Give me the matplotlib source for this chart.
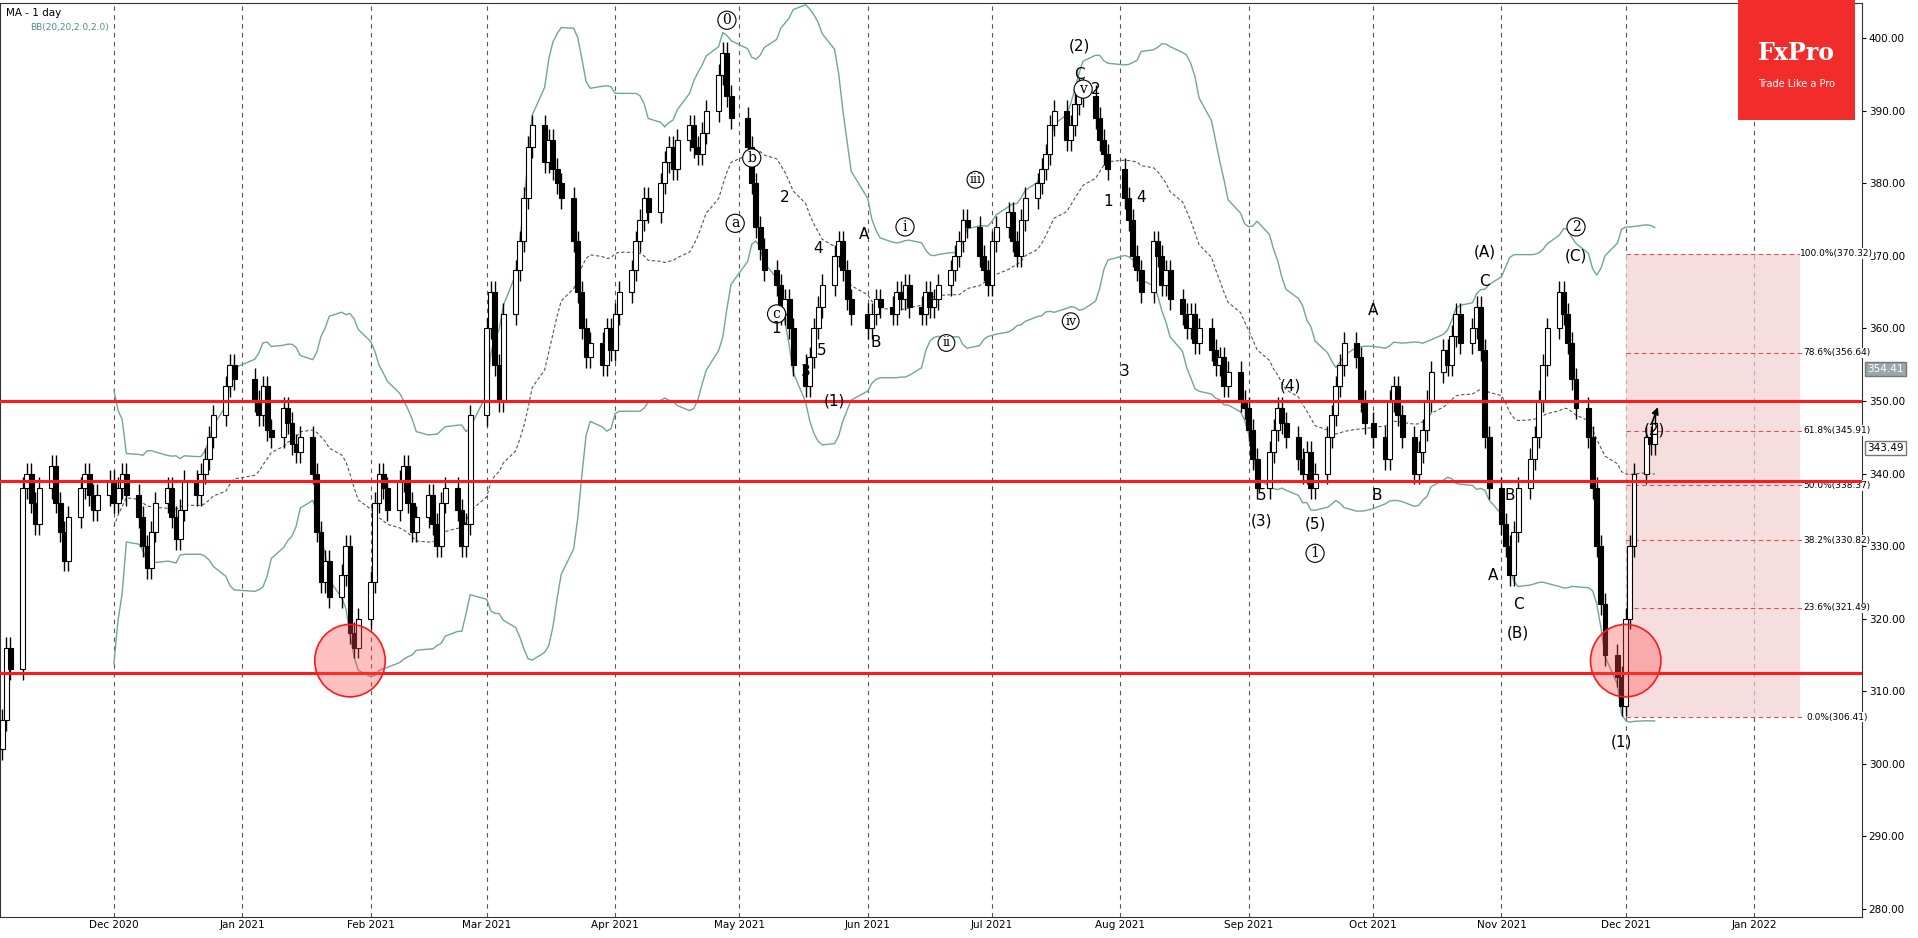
import matplotlib
matplotlib.use("Agg")
import matplotlib.pyplot as plt
import matplotlib.dates as mdates
from matplotlib.patches import Rectangle, Ellipse
import pandas as pd
import numpy as np

# ---- data (daily closes per month) ----
nov20 = [306,316,313,338,340,336,333,338,341,336,332,328,334,338,340,337,335,337,339]
dec20 = [336,338,340,337,334,330,327,332,336,338,334,331,335,339,337,340,342,345,348,352,355,353]
jan21 = [350,348,352,346,345,349,347,344,343,345,340,332,325,328,323,326,330,318,316,320]
feb21 = [325,336,340,338,335,339,341,336,332,334,337,333,330,336,338,335,330,333,348]
mar21 = [360,365,355,350,362,368,372,378,385,388,383,386,382,380,378,372,365,360,356,358,355,360,357]
apr21 = [362,365,368,372,375,378,376,380,383,385,382,386,388,385,384,387,390,395,398,392,389]
may21 = [385,380,374,371,368,366,362,364,360,355,352,356,360,363,366,370,372,368,364,362]
jun21 = [360,362,364,363,362,365,364,366,363,362,365,363,364,366,368,370,372,375,374,370,368,366]
jul21 = [372,374,376,372,370,375,378,380,382,384,388,390,386,388,391,393,392,389,386,384,382]
aug21 = [378,375,370,368,365,372,370,366,368,364,362,360,362,358,360,357,355,356,352,354,350,349]
sep21 = [346,342,338,343,346,349,347,345,342,340,343,338,340,345,348,352,355,358,356,350,347]
oct21 = [345,342,350,352,348,345,340,343,346,350,354,357,355,359,362,358,360,363,357,345,338]
nov21 = [333,330,326,332,338,342,345,350,355,360,365,362,358,353,349,345,338,330,322,315,312,308]
dec21 = [320,330,340,345,344,347]
month_starts = ["2020-11-04","2020-12-01","2021-01-04","2021-02-01","2021-03-01","2021-04-01",
                "2021-05-03","2021-06-01","2021-07-01","2021-08-02","2021-09-01","2021-10-01",
                "2021-11-01","2021-12-01"]
months = [nov20,dec20,jan21,feb21,mar21,apr21,may21,jun21,jul21,aug21,sep21,oct21,nov21,dec21]

h_levels = [350.0, 339.0, 312.5]
fib_pct = ["100.0%", "78.6%", "61.8%", "50.0%", "38.2%", "23.6%", "0.0%"]
fib_val = [370.32, 356.64, 345.91, 338.37, 330.82, 321.49, 306.41]

waves = [("2021-04-28",402.5,"0",True),("2021-05-04",383.5,"b",True),("2021-04-30",374.5,"a",True),
         ("2021-05-10",362,"c",True),("2021-05-12",378,"2",False),("2021-05-10",360,"1",False),
         ("2021-05-17",354,"3",False),("2021-05-21",357,"5",False),("2021-05-24",350,"(1)",False),
         ("2021-05-20",371,"4",False),("2021-05-31",373,"A",False),("2021-06-03",358,"B",False),
         ("2021-06-10",374,"i",True),("2021-06-20",358,"ii",True),("2021-06-27",380.5,"iii",True),
         ("2021-07-20",361,"iv",True),("2021-07-23",393,"v",True),("2021-07-26",393,"2",False),
         ("2021-07-22",395,"C",False),("2021-07-22",399,"(2)",False),("2021-07-29",377.5,"1",False),
         ("2021-08-06",378,"4",False),("2021-08-02",354,"3",False),("2021-09-04",337,"5",False),
         ("2021-09-04",333.5,"(3)",False),("2021-09-11",352,"(4)",False),("2021-09-17",333,"(5)",False),
         ("2021-09-17",329,"1",True),("2021-10-01",362.5,"A",False),("2021-10-02",337,"B",False),
         ("2021-10-28",370.5,"(A)",False),("2021-10-28",366.5,"C",False),("2021-11-03",337,"B",False),
         ("2021-10-30",326,"A",False),("2021-11-05",322,"C",False),("2021-11-05",318,"(B)",False),
         ("2021-11-19",374,"2",True),("2021-11-19",370,"(C)",False),("2021-11-30",303,"(1)",False),
         ("2021-12-08",346,"(2)",False)]

# ---- build series ----
dates, closes = [], []
for s, m in zip(month_starts, months):
    d = pd.bdate_range(s, periods=len(m))
    dates += list(d); closes += m
dates = pd.DatetimeIndex(dates)
closes = np.array(closes, float)
opens = np.r_[closes[0] - 4, closes[:-1]]
highs = np.maximum(opens, closes) + 1.5
lows = np.minimum(opens, closes) - 1.5
x = mdates.date2num(dates)
cs = pd.Series(closes)
mid = cs.rolling(20).mean().values
sd = cs.rolling(20).std(ddof=0).values

fig = plt.figure(figsize=(19.18, 9.38), dpi=100)
ax = fig.add_axes([0.0, 0.022, 0.9707, 0.975])
ax.set_ylim(278.8, 404.9)
ax.set_xlim(mdates.date2num(pd.Timestamp("2020-11-03 12:00")), mdates.date2num(pd.Timestamp("2022-01-27")))

for ms in pd.date_range("2020-12-01", "2022-01-01", freq="MS"):
    ax.axvline(mdates.date2num(ms), color="#555555", ls=(0, (4, 4)), lw=0.8, zorder=0)

bbc = "#6fa5a0"
ax.plot(x, mid + 2 * sd, color=bbc, lw=1)
ax.plot(x, mid - 2 * sd, color=bbc, lw=1)
ax.plot(x, mid, color="#555555", lw=0.8, ls=(0, (3, 2)))

# fib zone
f0 = mdates.date2num(pd.Timestamp("2021-12-01")); f1 = mdates.date2num(pd.Timestamp("2022-01-12"))
ax.add_patch(Rectangle((f0, fib_val[-1]), f1 - f0, fib_val[0] - fib_val[-1], color="#f4d0d0", alpha=0.7, zorder=0.5, lw=0))
for p, v in zip(fib_pct, fib_val):
    ax.plot([f0, f1 + 9], [v, v], color="#e05050", lw=0.8, ls=(0, (4, 3)), zorder=1)
    ax.text(f1 + 9, v, f"{p}({v:.2f})", fontsize=6.5, ha="center", va="center",
            bbox=dict(fc="white", ec="none", pad=0.5), zorder=3)

w = 1.2
for xi, o, h, l, c in zip(x, opens, highs, lows, closes):
    ax.vlines(xi, l, h, color="black", lw=1, zorder=2)
    up = c >= o
    ax.add_patch(Rectangle((xi - w / 2, min(o, c)), w, max(abs(c - o), 0.3),
                           fc="white" if up else "black", ec="black", lw=0.8, zorder=3))

for lv in h_levels:
    ax.axhline(lv, color="#ff1a1a", lw=2.2, zorder=4)

for d, p in [("2021-01-27", 314.2), ("2021-12-01", 314.2)]:
    ax.add_patch(Ellipse((mdates.date2num(pd.Timestamp(d)), p), 17, 10, fc=(1, 0.3, 0.3, 0.35), ec="#ff1a1a", lw=1.2, zorder=5))

for d, p, t, circ in waves:
    kw = dict(fontsize=11, ha="center", va="center", zorder=6)
    if circ:
        kw["bbox"] = dict(boxstyle="circle,pad=0.15", fc="white", ec="black", lw=0.8)
        kw["fontsize"] = 9 if len(t) > 1 else 10
        kw["family"] = "DejaVu Serif"
    ax.text(mdates.date2num(pd.Timestamp(d)), p, t, **kw)

ax.annotate("", xy=(mdates.date2num(pd.Timestamp("2021-12-09")), 349.5),
            xytext=(mdates.date2num(pd.Timestamp("2021-12-07")), 346.5),
            arrowprops=dict(arrowstyle="-|>", color="black", lw=1.2), zorder=6)

ax.yaxis.tick_right()
ax.set_yticks(range(280, 401, 10))
ax.set_yticklabels([f"{v:.2f}" for v in range(280, 401, 10)], fontsize=7.5)
ax.xaxis.set_major_locator(mdates.MonthLocator(bymonthday=1))
ax.xaxis.set_major_formatter(mdates.DateFormatter("%b %Y"))
ax.tick_params(axis="x", labelsize=7.5, length=0, pad=2)
ax.tick_params(axis="y", length=3, pad=2)
for sp in ax.spines.values():
    sp.set_color("#333333"); sp.set_linewidth(0.8)

for v, fc, tc in [(354.41, "#9aa7ad", "white"), (343.49, "white", "black")]:
    ax.text(1.003, v, f"{v:.2f}", transform=ax.get_yaxis_transform(), fontsize=7.5, va="center", ha="left",
            color=tc, bbox=dict(fc=fc, ec="#777777", pad=1.5), clip_on=False)

ax.text(0.003, 0.994, "MA - 1 day", transform=ax.transAxes, fontsize=7.5, va="top")
ax.text(0.016, 0.978, "BB(20,20,2.0,2.0)", transform=ax.transAxes, fontsize=6.5, va="top", color="#4f8f8a")

lax = fig.add_axes([0.906, 0.872, 0.061, 0.128])
lax.add_patch(Rectangle((0, 0), 1, 1, color="#f22b2b"))
lax.set_xlim(0, 1); lax.set_ylim(0, 1); lax.axis("off")
lax.text(0.5, 0.56, "FxPro", color="white", fontsize=17, fontweight="bold", family="DejaVu Serif", ha="center", va="center")
lax.text(0.5, 0.3, "Trade Like a Pro", color="white", fontsize=7, ha="center", va="center")

fig.savefig("out.png", dpi=100)
